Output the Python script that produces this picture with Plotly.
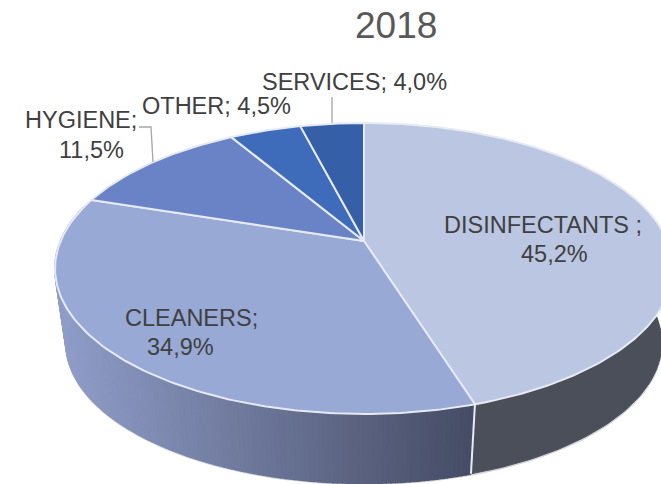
import numpy as np
import plotly.graph_objects as go

title = "2018"
categories = ["DISINFECTANTS", "CLEANERS", "HYGIENE", "OTHER", "SERVICES"]
values = [45.2, 34.9, 11.5, 4.5, 4.0]
colors = ["#bbc6e2", "#98a9d6", "#6a83c6", "#3f6cba", "#3560a8"]
label_lines = [
    ("DISINFECTANTS ;", 543, 225), ("45,2%", 554, 254),
    ("CLEANERS;", 191, 318), ("34,9%", 180, 347),
    ("HYGIENE;", 81, 120), ("11,5%", 91, 150),
    ("OTHER; 4,5%", 216, 106),
    ("SERVICES; 4,0%", 354, 82),
]

# projection of a tilted disc
CX, CY, A, B, K = 364.0, 241.0, 303.4, 140.3, 0.189
DROP, SHRINK = 75.4, 0.964
FONT = "Liberation Sans"


def project(theta, rad=1.0, low=False):
    u, v = rad * np.sin(theta), rad * np.cos(theta)
    w = 1 + K * v
    s = SHRINK if low else 1.0
    d = DROP if low else 0.0
    return CX + s * A * u / w, CY + d - s * B * v / w


total = sum(values)
edges = np.concatenate([[0], np.cumsum(values)]) / total * 2 * np.pi
seam = edges[1]
traces = []


def wall(t0, t1, color, width=1, n=6):
    th = np.linspace(t0, t1, n)
    x1, y1 = project(th)
    x2, y2 = project(th[::-1], low=True)
    traces.append(go.Scatter(
        x=np.concatenate([x1, x2]), y=np.concatenate([y1, y2]), fill="toself",
        fillcolor=color, mode="lines", line=dict(color=color, width=width),
        hoverinfo="skip", showlegend=False))


# outer rim of the wall
th_rim = np.linspace(np.radians(70), np.radians(285), 200)
xr, yr = project(th_rim, low=True)
traces.append(go.Scatter(x=xr, y=yr + 1, mode="lines", line=dict(color="#d4d6da", width=2),
                         hoverinfo="skip", showlegend=False))

# right wall: flat dark
wall(np.radians(70), seam, "#4b4f5a", n=80)

# left wall: shaded from dark at the seam to light at the far left
dark = np.array([0x47, 0x4d, 0x66])
light = np.array([0x8f, 0x9d, 0xc8])
steps = np.linspace(seam, np.radians(285), 160)
for a, b in zip(steps[:-1], steps[1:]):
    xm = project((a + b) / 2)[0]
    f = np.clip((470 - xm) / (470 - 60), 0, 1)
    c = dark + (light - dark) * f
    wall(a, b, "rgb(%d,%d,%d)" % tuple(c), width=2)

# seam
xs0, ys0 = project(seam)
xs1, ys1 = project(seam, low=True)
traces.append(go.Scatter(x=[xs0, xs1], y=[ys0, ys1], mode="lines",
                         line=dict(color="#e8ebf3", width=2), hoverinfo="skip", showlegend=False))

# top face
for i, name in enumerate(categories):
    th = np.linspace(edges[i], edges[i + 1], max(int(values[i] * 4), 12))
    x, y = project(th)
    traces.append(go.Scatter(
        x=np.concatenate([[CX], x, [CX]]), y=np.concatenate([[CY], y, [CY]]),
        fill="toself", fillcolor=colors[i], mode="lines",
        line=dict(color="#e6eaf4", width=2), name=name,
        text=f"{name}; {values[i]}%", hoverinfo="text", showlegend=False))

fig = go.Figure(traces)

annotations = [dict(x=x, y=y, text=t, showarrow=False, xanchor="center", yanchor="middle",
                    xref="x", yref="y", font=dict(family=FONT, size=23.5, color="#404040"))
               for t, x, y in label_lines]
annotations.append(dict(x=396, y=25, text=title, showarrow=False, xanchor="center", yanchor="middle",
                        xref="x", yref="y", font=dict(family=FONT, size=37, color="#595959")))

leader = dict(color="#a6a6a6", width=1.3)
shapes = [
    dict(type="line", xref="x", yref="y", x0=332, y0=97, x1=332, y1=123, line=leader),
    dict(type="path", xref="x", yref="y", path="M139,127 L151,127 L153,162", line=leader),
]

fig.update_layout(
    width=661, height=484, margin=dict(l=0, r=0, t=0, b=0),
    paper_bgcolor="white", plot_bgcolor="white", showlegend=False,
    xaxis=dict(range=[0, 661], visible=False, fixedrange=True),
    yaxis=dict(range=[484, 0], visible=False, fixedrange=True),
    annotations=annotations, shapes=shapes,
)
fig.write_html("out.html", config=dict(displayModeBar=False),
               post_script="document.body.style.margin='0';document.body.style.overflow='hidden';")
